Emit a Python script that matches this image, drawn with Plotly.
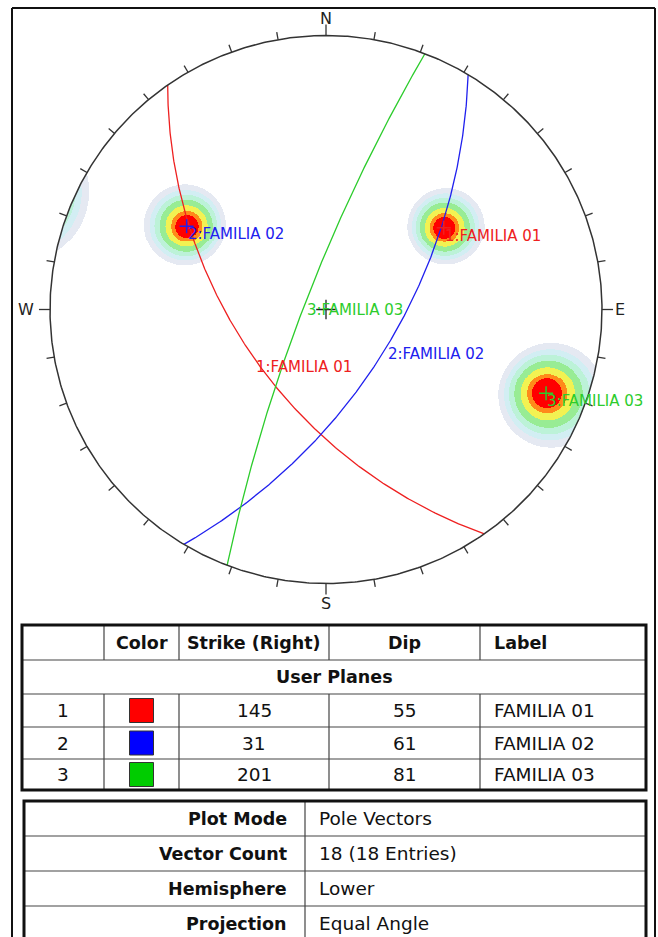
import numpy as np
import plotly.graph_objects as go

# ---------------- data ----------------
plane_ids = [1, 2, 3]
plane_labels = ["FAMILIA 01", "FAMILIA 02", "FAMILIA 03"]
strikes = [145, 31, 201]          # strike (right-hand rule), degrees
dips = [55, 61, 81]               # dip, degrees
plane_colors = ["#ee2020", "#2020ee", "#2ccc2c"]
swatch_colors = ["#ff0000", "#0000ff", "#00cc00"]

table_headers = ["", "Color", "Strike (Right)", "Dip", "Label"]
section_title = "User Planes"
info_keys = ["Plot Mode", "Vector Count", "Hemisphere", "Projection"]
info_values = ["Pole Vectors", "18 (18 Entries)", "Lower", "Equal Angle"]

compass_labels = ["N", "E", "S", "W"]
compass_azimuths = [0, 90, 180, 270]
tick_azimuths = list(range(0, 360, 10))

# pole density contours (Fisher kernel), levels & colours
kappa = 105
density_levels = [0.082, 0.148, 0.229, 0.346, 0.512, 0.692, 0.815]
density_colors = ["#e5e9f2", "#d2eef3", "#bcf2d8", "#98ec94", "#f2f252", "#ff8a1a", "#ff0000"]

# ---------------- geometry ----------------
W, H = 658, 937
CX, CY = 326, 309.5
RX, RY = 276, 274
FONT = "DejaVu Sans"


def px(x):
    return x / W


def py(y):
    return 1 - y / H


def project(e, n, d):
    """equal-angle (stereographic) lower-hemisphere projection"""
    return e / (1 + d), n / (1 + d)


fig = go.Figure()

# ---------------- density of poles ----------------
poles = []
for s, dp in zip(strikes, dips):
    sr, dr = np.radians(s), np.radians(dp)
    poles.append((np.sin(dr) * np.sin(sr - np.pi / 2),
                  np.sin(dr) * np.cos(sr - np.pi / 2),
                  np.cos(dr)))

g = np.linspace(-1, 1, 553)
X, Y = np.meshgrid(g, g)
R2 = X ** 2 + Y ** 2
E = 2 * X / (1 + R2)
N = 2 * Y / (1 + R2)
D = (1 - R2) / (1 + R2)
dens = np.zeros_like(X)
for pe, pn, pd in poles:
    c = np.abs(E * pe + N * pn + D * pd)
    dens += np.exp(kappa * (c - 1))
band = np.digitize(dens, density_levels).astype(float)
band[band == 0] = np.nan
band[R2 > 1] = np.nan

nb = len(density_colors)
cscale = []
for k, col in enumerate(density_colors):
    cscale.append([k / nb, col])
    cscale.append([(k + 1) / nb, col])

fig.add_trace(go.Heatmap(x=g, y=g, z=band.astype(np.float32), colorscale=cscale,
                         zmin=0.5, zmax=nb + 0.5, showscale=False,
                         hoverinfo="skip", zsmooth=False))

# ---------------- great circles ----------------
phi = np.linspace(0, np.pi, 361)
dip_points = []
for s, dp, col in zip(strikes, dips, plane_colors):
    sr, dr = np.radians(s), np.radians(dp)
    sv = np.array([np.sin(sr), np.cos(sr), 0.0])
    dv = np.array([np.cos(dr) * np.sin(sr + np.pi / 2),
                   np.cos(dr) * np.cos(sr + np.pi / 2),
                   np.sin(dr)])
    v = np.outer(np.cos(phi), sv) + np.outer(np.sin(phi), dv)
    x, y = project(v[:, 0], v[:, 1], v[:, 2])
    fig.add_trace(go.Scatter(x=x, y=y, mode="lines",
                             line=dict(color=col, width=1.3), hoverinfo="skip"))
    dip_points.append(project(*dv))

# ---------------- primitive circle & ticks ----------------
t = np.radians(np.linspace(0, 360, 721))
fig.add_trace(go.Scatter(x=np.sin(t), y=np.cos(t), mode="lines",
                         line=dict(color="#333333", width=1.5), hoverinfo="skip"))
tx, ty = [], []
for az in tick_azimuths:
    L = 0.04 if az % 90 == 0 else 0.028
    a = np.radians(az)
    tx += [np.sin(a), (1 + L) * np.sin(a), None]
    ty += [np.cos(a), (1 + L) * np.cos(a), None]
fig.add_trace(go.Scatter(x=tx, y=ty, mode="lines",
                         line=dict(color="#333333", width=1.3), hoverinfo="skip"))

# centre cross
fig.add_trace(go.Scatter(x=[0], y=[0], mode="markers",
                         marker=dict(symbol="cross-thin", size=14,
                                     line=dict(color="#222222", width=1.3)),
                         hoverinfo="skip"))

# pole markers
pxs = [project(*p)[0] for p in poles]
pys = [project(*p)[1] for p in poles]
fig.add_trace(go.Scatter(x=pxs, y=pys, mode="markers",
                         marker=dict(symbol="cross-thin", size=10,
                                     line=dict(color=plane_colors, width=1.5)),
                         hoverinfo="skip"))

annotations = []
# labels for poles and planes
for i in range(len(plane_ids)):
    txt = f"{plane_ids[i]}:{plane_labels[i]}"
    for (ax, ay) in [(pxs[i], pys[i]), dip_points[i]]:
        annotations.append(dict(x=ax, y=ay, xref="x", yref="y", text=txt,
                                showarrow=False, xanchor="left", yanchor="middle",
                                xshift=-1, yshift=-8,
                                font=dict(family=FONT, size=15, color=plane_colors[i])))

# compass letters
shifts = {"N": (0, 17), "E": (18, 0), "S": (0, -20), "W": (-24, 0)}
for lab, az in zip(compass_labels, compass_azimuths):
    a = np.radians(az)
    sx, sy = shifts[lab]
    annotations.append(dict(x=np.sin(a), y=np.cos(a), xref="x", yref="y", text=lab,
                            showarrow=False, xanchor="center", yanchor="middle",
                            xshift=sx, yshift=sy,
                            font=dict(family=FONT, size=16, color="#222222")))

# ---------------- tables ----------------
shapes = []


def hline(x0, x1, y, w=1.2, c="#444444"):
    shapes.append(dict(type="line", xref="paper", yref="paper",
                       x0=px(x0), x1=px(x1), y0=py(y), y1=py(y),
                       line=dict(color=c, width=w)))


def vline(x, y0, y1, w=1.2, c="#444444"):
    shapes.append(dict(type="line", xref="paper", yref="paper",
                       x0=px(x), x1=px(x), y0=py(y0), y1=py(y1),
                       line=dict(color=c, width=w)))


def rect(x0, y0, x1, y1, w=2.5, c="#111111", fill=None):
    d = dict(type="rect", xref="paper", yref="paper",
             x0=px(x0), x1=px(x1), y0=py(y1), y1=py(y0),
             line=dict(color=c, width=w))
    if fill:
        d["fillcolor"] = fill
    shapes.append(d)


def text(x, y, s, anchor="center", bold=False, size=17.5, color="#111111"):
    annotations.append(dict(x=px(x), y=py(y), xref="paper", yref="paper",
                            text=f"<b>{s}</b>" if bold else s, showarrow=False,
                            xanchor=anchor, yanchor="middle",
                            font=dict(family=FONT, size=size, color=color)))


# outer frame of the whole figure
vline(12, 8, 945, w=2, c="#111111")
vline(655, 8, 945, w=2, c="#111111")
hline(12, 655, 8, w=2, c="#111111")

# table 1
cx = [22, 104, 179, 329, 480, 646]
ry = [625, 660, 694, 727, 759, 790]
for yy in ry[1:-1]:
    hline(cx[0], cx[-1], yy)
for xx in cx[1:-1]:
    vline(xx, ry[0], ry[1])
    vline(xx, ry[2], ry[-1])
rect(cx[0], ry[0], cx[-1], ry[-1], w=3)

hy = (ry[0] + ry[1]) / 2
for j, h in enumerate(table_headers):
    if not h:
        continue
    if h == "Label":
        text(cx[4] + 12, hy, h, anchor="left", bold=True)
    else:
        text((cx[j] + cx[j + 1]) / 2, hy, h, bold=True)
text((cx[0] + cx[-1]) / 2, (ry[1] + ry[2]) / 2, section_title, bold=True)

for i in range(len(plane_ids)):
    yc = (ry[2 + i] + ry[3 + i]) / 2
    text((cx[0] + cx[1]) / 2, yc, str(plane_ids[i]), size=18.5)
    sx0 = (cx[1] + cx[2]) / 2
    rect(sx0 - 12, yc - 12, sx0 + 12, yc + 12, w=1, c="#333333", fill=swatch_colors[i])
    text((cx[2] + cx[3]) / 2, yc, str(strikes[i]), size=18.5)
    text((cx[3] + cx[4]) / 2, yc, str(dips[i]), size=18.5)
    text(cx[4] + 12, yc, plane_labels[i], anchor="left", size=18.5)

# table 2
bx = [24, 305, 646]
by = [801, 836, 871, 906, 941]
for yy in by[1:-1]:
    hline(bx[0], bx[-1], yy)
vline(bx[1], by[0], by[-1])
rect(bx[0], by[0], bx[-1], by[-1], w=3)
for i, (k, v) in enumerate(zip(info_keys, info_values)):
    yc = (by[i] + by[i + 1]) / 2
    text(bx[1] - 16, yc, k, anchor="right", bold=True)
    text(bx[1] + 12, yc, v, anchor="left", size=18.5)

fig.update_layout(
    width=W, height=H,
    margin=dict(l=0, r=0, t=0, b=0),
    paper_bgcolor="white", plot_bgcolor="white",
    showlegend=False,
    xaxis=dict(range=[-CX / RX, (W - CX) / RX], domain=[0, 1], visible=False, fixedrange=True),
    yaxis=dict(range=[-(H - CY) / RY, CY / RY], domain=[0, 1], visible=False, fixedrange=True),
    shapes=shapes,
    annotations=annotations,
)

fig.write_html("out.html",
               config={"displayModeBar": False},
               post_script="document.body.style.margin='0px';document.body.style.overflow='hidden';")
